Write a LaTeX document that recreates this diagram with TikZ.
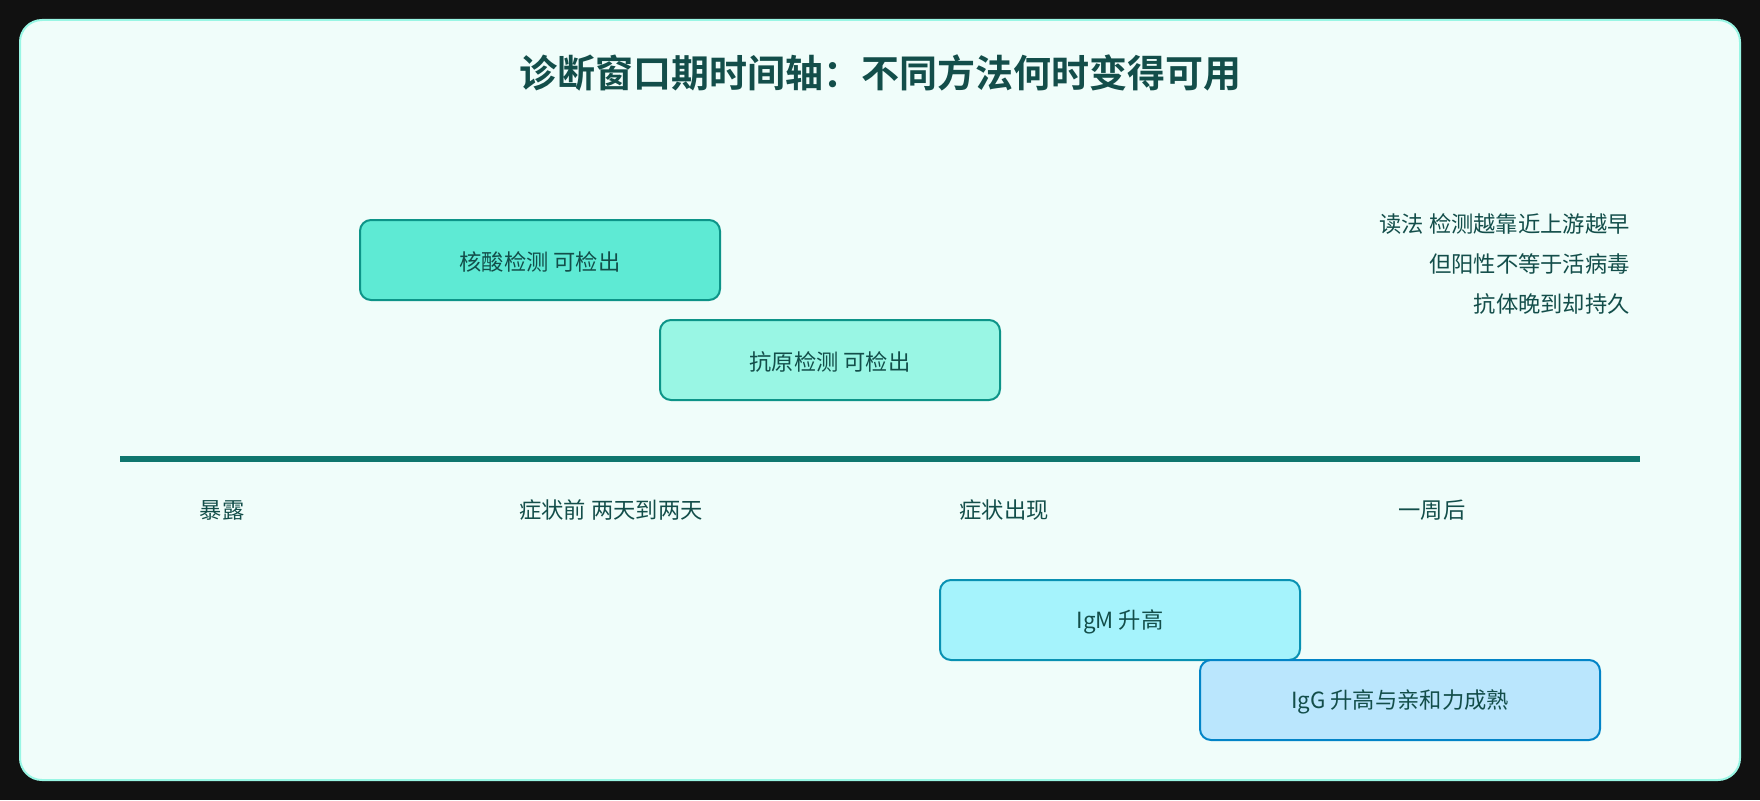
\documentclass[tikz,border=0pt]{standalone}
\usepackage{fontspec}
\setmainfont{Noto Sans CJK SC}
\newfontfamily\cjkbold{Noto Sans CJK SC Bold}
\definecolor{bgdark}{HTML}{111111}
\definecolor{panelfill}{HTML}{F0FDFA}
\definecolor{paneldraw}{HTML}{99F6E4}
\definecolor{ink}{HTML}{134E4A}
\definecolor{axiscol}{HTML}{0F766E}
\definecolor{naFill}{HTML}{5EEAD4}
\definecolor{naDraw}{HTML}{0D9488}
\definecolor{agFill}{HTML}{99F6E4}
\definecolor{agDraw}{HTML}{0D9488}
\definecolor{igmFill}{HTML}{A5F3FC}
\definecolor{igmDraw}{HTML}{0891B2}
\definecolor{iggFill}{HTML}{BAE6FD}
\definecolor{iggDraw}{HTML}{0284C7}
\begin{document}
\begin{tikzpicture}[x=1pt,y=-1pt,
  phase/.style={rectangle, rounded corners=11pt, line width=2pt, minimum height=80pt, inner sep=0pt, text=ink, font=\fontsize{22.3}{26}\selectfont},
  phasetext/.style={text=ink, inner sep=0pt, font=\fontsize{22.3}{26}\selectfont},
  ticklabel/.style={text=ink, inner sep=0pt, font=\fontsize{22.3}{26}\selectfont},
  note/.style={text=ink, inner sep=0pt, anchor=east, font=\fontsize{22.3}{26}\selectfont},
  titlestyle/.style={text=ink, inner sep=0pt, font=\cjkbold\fontsize{38}{44}\selectfont}]
\useasboundingbox (0,0) rectangle (1760,800);
\fill[bgdark] (0,0) rectangle (1760,800);
\draw[fill=panelfill, draw=paneldraw, line width=2pt, rounded corners=22pt] (20,20) rectangle (1740,780);
\node[titlestyle] (title) at (880,73) {诊断窗口期时间轴：不同方法何时变得可用};
\node[phase, fill=naFill, draw=naDraw, minimum width=360pt] (na) at (540,260) {};
\node[phasetext] (naT) at (540,262) {核酸检测 可检出};
\node[phase, fill=agFill, draw=agDraw, minimum width=340pt] (ag) at (830,360) {};
\node[phasetext] (agT) at (830,362) {抗原检测 可检出};
\coordinate (axL) at (120,459);
\coordinate (axR) at (1640,459);
\draw[axiscol, line width=6pt] (axL) -- (axR);
\node[ticklabel] (t1) at (222,510) {暴露};
\node[ticklabel] (t2) at (611,510) {症状前 两天到两天};
\node[ticklabel] (t3) at (1004,510) {症状出现};
\node[ticklabel] (t4) at (1432,510) {一周后};
\node[phase, fill=igmFill, draw=igmDraw, minimum width=360pt] (igm) at (1120,620) {};
\node[phasetext] (igmT) at (1120,622) {IgM 升高};
\node[phase, fill=iggFill, draw=iggDraw, minimum width=400pt] (igg) at (1400,700) {};
\node[phasetext] (iggT) at (1400,702) {IgG 升高与亲和力成熟};
\node[note] (n1) at (1630,224) {读法 检测越靠近上游越早};
\node[note] (n2) at (1630,264) {但阳性不等于活病毒};
\node[note] (n3) at (1630,304) {抗体晚到却持久};
\end{tikzpicture}
\end{document}
